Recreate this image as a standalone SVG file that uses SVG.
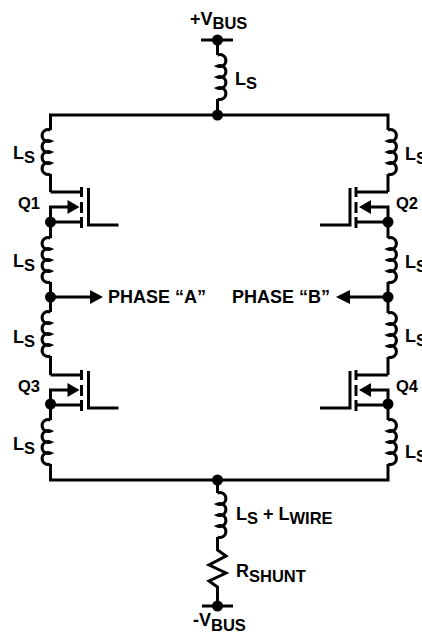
<svg xmlns="http://www.w3.org/2000/svg" width="422" height="635" viewBox="0 0 422 635">
<style>
.w{fill:none;stroke:#000;stroke-width:3;stroke-linejoin:miter}
.d{fill:#000}
text{font-family:"Liberation Sans",Arial,sans-serif;font-weight:bold;font-size:18px;fill:#000}
.s{font-size:16.500px}
</style>
<defs>
<path id="coilR" class="w" d="M0,0a6,6 0 1 1 0,11a6,6 0 1 1 0,11a6,6 0 1 1 0,11a6,6 0 1 1 0,11"/>
<path id="coilL" class="w" d="M0,0a6,6 0 1 0 0,11a6,6 0 1 0 0,11a6,6 0 1 0 0,11a6,6 0 1 0 0,11"/>
<g id="fetL">
<path class="w" d="M0,0H31M0,30H31"/>
<path class="w" d="M0,30V15H19"/>
<polygon class="d" points="17,8 29,15 17,22"/>
<path class="w" d="M31,-5V5M31,10V21M31,25V36"/>
<path class="w" d="M38,-4V33H68"/>
</g>
<g id="fetR">
<path class="w" d="M0,0H-32M0,30H-32"/>
<path class="w" d="M0,30V15H-17"/>
<polygon class="d" points="-17,8 -29,15 -17,22"/>
<path class="w" d="M-32,-5V5M-32,10V21M-32,25V36"/>
<path class="w" d="M-38,-4V33H-68"/>
</g>
</defs>
<g id="connectors">
<path class="w" d="M201,40H233M217.500,40V55M217.500,99V115"/>
<path class="w" d="M50.500,130V115H388V130"/>
<path class="w" d="M50.500,174V192M50.500,222V238M50.500,282V312M50.500,356V375M50.500,404V420M50.500,464V480H388V464M388,420V404M388,375V357M388,313V282M388,238V222M388,192V174"/>
<path class="w" d="M50.500,297H92M388,297H349"/>
<polygon class="d" points="90,290 103,297 90,304"/>
<polygon class="d" points="350,290 336,297 350,304"/>
<path class="w" d="M217.500,480V493M217.500,537V550L226,556L209,565L226,573L209,581L217.500,587V606M202,606H233"/>
</g>
<g id="L-top"><use href="#coilR" x="217.500" y="55"/><text x="235" y="85">L<tspan class="s" dy="4">S</tspan></text></g>
<g id="L1"><use href="#coilL" x="50.500" y="130"/><text x="13" y="159">L<tspan class="s" dy="4">S</tspan></text></g>
<g id="L2"><use href="#coilR" x="388" y="130"/><text x="405" y="160">L<tspan class="s" dy="4">S</tspan></text></g>
<g id="L3"><use href="#coilL" x="50.500" y="238"/><text x="13" y="267">L<tspan class="s" dy="4">S</tspan></text></g>
<g id="L4"><use href="#coilR" x="388" y="238"/><text x="405" y="268">L<tspan class="s" dy="4">S</tspan></text></g>
<g id="L5"><use href="#coilL" x="50.500" y="312"/><text x="13" y="343">L<tspan class="s" dy="4">S</tspan></text></g>
<g id="L6"><use href="#coilR" x="388" y="313"/><text x="405" y="342">L<tspan class="s" dy="4">S</tspan></text></g>
<g id="L7"><use href="#coilL" x="50.500" y="420"/><text x="13" y="450">L<tspan class="s" dy="4">S</tspan></text></g>
<g id="L8"><use href="#coilR" x="388" y="420"/><text x="405" y="458">L<tspan class="s" dy="4">S</tspan></text></g>
<g id="L-wire"><use href="#coilR" x="217.500" y="493"/><text x="236" y="520">L<tspan class="s" dy="4">S</tspan><tspan dy="-4"> + L</tspan><tspan class="s" dy="4">WIRE</tspan></text></g>
<g id="R-shunt"><text x="236" y="577">R<tspan class="s" dy="5">SHUNT</tspan></text></g>
<g id="Q1"><use href="#fetL" x="50.500" y="192"/><text class="s" x="18" y="209">Q1</text></g>
<g id="Q2"><use href="#fetR" x="388" y="192"/><text class="s" x="396" y="209">Q2</text></g>
<g id="Q3"><use href="#fetL" x="50.500" y="375"/><text class="s" x="18" y="392">Q3</text></g>
<g id="Q4"><use href="#fetR" x="388" y="375"/><text class="s" x="396" y="392">Q4</text></g>
<g id="junctions">
<circle class="d" cx="217.500" cy="40" r="5.500"/>
<circle class="d" cx="217.500" cy="115" r="5.500"/>
<circle class="d" cx="50.500" cy="222" r="5.500"/>
<circle class="d" cx="388" cy="222" r="5.500"/>
<circle class="d" cx="50.500" cy="297" r="5.500"/>
<circle class="d" cx="388" cy="297" r="5.500"/>
<circle class="d" cx="50.500" cy="404" r="5.500"/>
<circle class="d" cx="388" cy="404" r="5.500"/>
<circle class="d" cx="217.500" cy="480" r="5.500"/>
<circle class="d" cx="217.500" cy="606" r="5.500"/>
</g>
<g id="plus-vbus"><text x="190" y="25">+V<tspan class="s" dy="4">BUS</tspan></text></g>
<g id="minus-vbus"><text x="193" y="626">-V<tspan class="s" dy="5">BUS</tspan></text></g>
<g id="phase-a"><text x="108" y="303">PHASE “A”</text></g>
<g id="phase-b"><text x="232" y="303">PHASE “B”</text></g>
</svg>
